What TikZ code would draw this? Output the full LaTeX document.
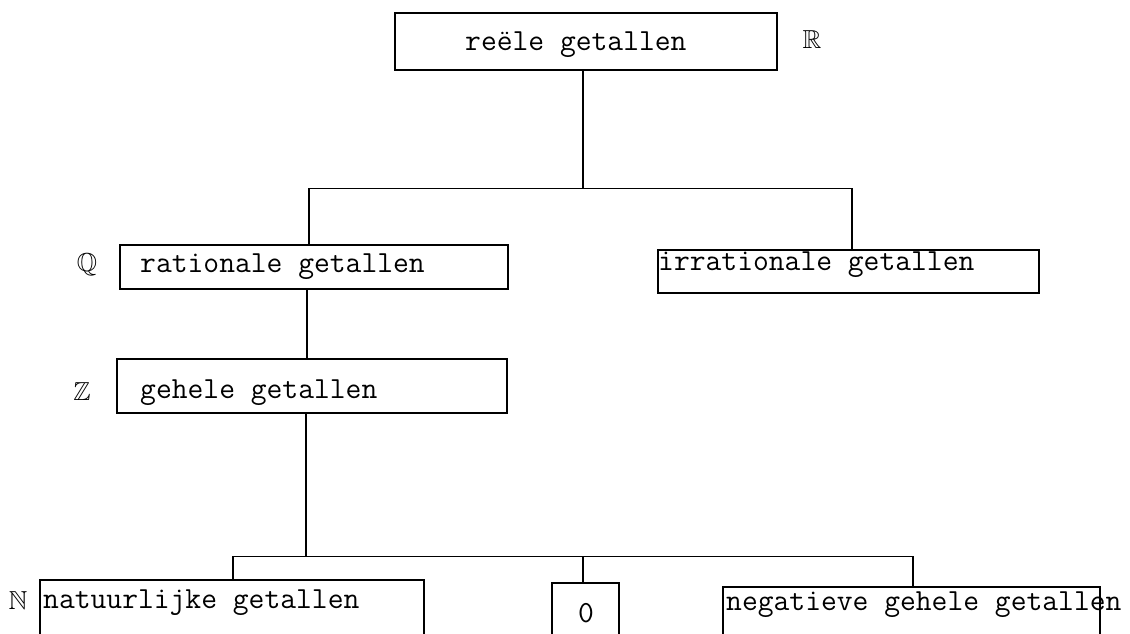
\documentclass[tikz,border=0pt]{standalone}
\usepackage{amssymb}
\usepackage{fontspec}
\begin{document}
\begin{tikzpicture}[x=1pt,y=-1pt,
  box/.style={draw, line width=1.1pt, inner sep=0pt},
  txt/.style={inner sep=0pt, anchor=base west, font=\fontsize{30.7}{34}\ttfamily},
  set/.style={inner sep=0pt, font=\fontsize{26}{30}\selectfont},
  link/.style={line width=1.1pt}]
\useasboundingbox (0,0) rectangle (1130,634);
\clip (0,0) rectangle (1130,634);
% boxes
\node[box, minimum width=382pt, minimum height=57pt] (R) at (586,41.5) {};
\node[box, minimum width=388pt, minimum height=44pt] (Q) at (314,267) {};
\node[box, minimum width=381pt, minimum height=43pt] (I) at (848.5,271.5) {};
\node[box, minimum width=390pt, minimum height=54pt] (Z) at (312,386) {};
\node[box, minimum width=384pt, minimum height=80pt] (N) at (232,620) {};
\node[box, minimum width=67pt, minimum height=80pt] (O) at (585.5,623) {};
\node[box, minimum width=377pt, minimum height=80pt] (G) at (911.5,627) {};
% texts
\node[txt] (tR) at (465,51) {reële getallen};
\node[txt] (tQ) at (140,272) {rationale getallen};
\node[txt] (tI) at (658,270) {irrationale getallen};
\node[txt] (tZ) at (140,398) {gehele getallen};
\node[txt] (tN) at (43,608) {natuurlijke getallen};
\node[txt] (tO) at (578,622) {0};
\node[txt] (tG) at (726,610) {negatieve gehele getallen};
% set symbols
\node[set] (sR) at (812,40) {$\mathbb{R}$};
\node[set] (sQ) at (87,265) {$\mathbb{Q}$};
\node[set] (sZ) at (82,392) {$\mathbb{Z}$};
\node[set] (sN) at (18,601) {$\mathbb{N}$};
% connectors
\draw[link] ([xshift=-3pt]R.south) -- ++(0,118) coordinate (h1);
\draw[link] ([xshift=-5pt]Q.north) |- (h1) -| ([xshift=3.5pt]I.north);
\draw[link] ([xshift=-7pt]Q.south) -- ([xshift=-5pt]Z.north);
\draw[link] ([xshift=-6pt]Z.south) -- ++(0,143) coordinate (h2);
\draw[link] ([xshift=1pt]N.north) |- (h2) -| ([xshift=1.5pt]G.north);
\draw[link] ([xshift=-2.5pt]O.north |- h2) -- ([xshift=-2.5pt]O.north);
\end{tikzpicture}
\end{document}
